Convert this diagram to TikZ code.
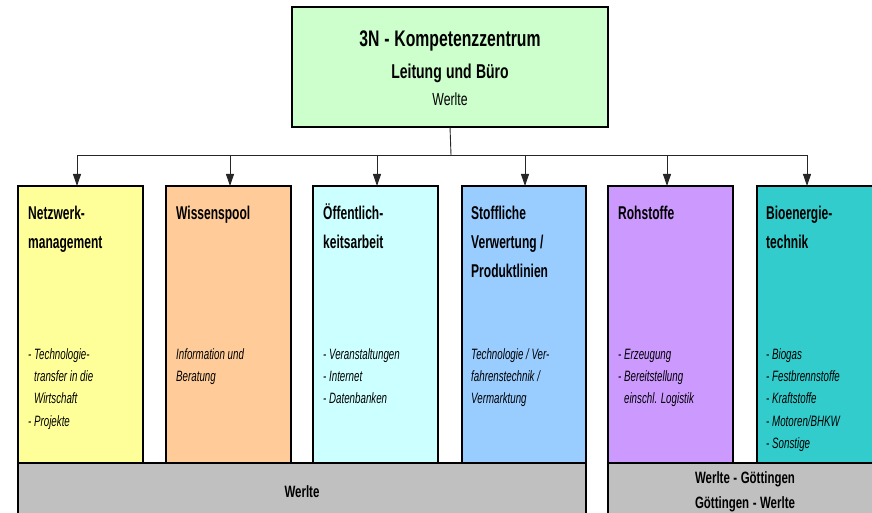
\documentclass[tikz,border=0pt]{standalone}
\usepackage{fontspec}
\setmainfont{Liberation Sans}[FakeStretch=0.65]
\newfontfamily\topfont{Liberation Sans}[FakeStretch=0.7,WordSpace=1.1]
\usetikzlibrary{arrows.meta}
\definecolor{cgreen}{HTML}{CCFFCC}
\definecolor{cyellow}{HTML}{FFFF99}
\definecolor{cpeach}{HTML}{FFCC99}
\definecolor{ccyan}{HTML}{CCFFFF}
\definecolor{cblue}{HTML}{99CCFF}
\definecolor{clav}{HTML}{CC99FF}
\definecolor{cteal}{HTML}{33CCCC}
\definecolor{cgray}{HTML}{C0C0C0}
\begin{document}
\begin{tikzpicture}[x=1pt,y=-1pt,
  box/.style={draw=black,line width=1.6pt,minimum width=125pt,minimum height=277pt,anchor=north west,inner sep=0pt,outer sep=0pt},
  bar/.style={draw=black,line width=1.6pt,fill=cgray,minimum height=70pt,anchor=north west,inner sep=0pt,outer sep=0pt},
  head/.style={anchor=base west,inner sep=0pt,text width=118pt,align=flush left,font=\bfseries\fontsize{18.5}{29}\selectfont},
  item/.style={anchor=base west,inner sep=0pt,text width=118pt,align=flush left,font=\itshape\fontsize{15}{22.4}\selectfont},
  bartext/.style={anchor=base,inner sep=0pt,font=\topfont\bfseries\fontsize{16.4}{25}\selectfont},
  arr/.style={draw=black!85,line width=0.9pt,-{Triangle[length=12pt,width=8pt]}}]
\useasboundingbox (0,0) rectangle (872,513);
\clip (0,0) rectangle (872,513);
% top box
\node[draw=black,line width=1.6pt,fill=cgreen,minimum width=316pt,minimum height=120pt,anchor=north west,inner sep=0pt,outer sep=0pt] (top) at (292,7) {};
\node[anchor=base,inner sep=0pt,font=\topfont\bfseries\fontsize{22.5}{26}\selectfont] (t1) at (450,47) {3N - Kompetenzzentrum};
\node[anchor=base,inner sep=0pt,font=\topfont\bfseries\fontsize{20}{24}\selectfont] (t2) at (450,79) {Leitung und Büro};
\node[anchor=base,inner sep=0pt,font=\topfont\fontsize{17.5}{21}\selectfont] (t3) at (450,106) {Werlte};
% bars
\node[bar,minimum width=568pt] (bar1) at (18,463) {};
\node[bar,minimum width=280pt] (bar2) at (608,463) {};
\node[bartext] (bt1) at (302,497) {Werlte};
\node[bartext] (bt2) at (745,483) {Werlte - Göttingen};
\node[bartext] (bt3) at (745,508) {Göttingen - Werlte};
% boxes
\node[box,fill=cyellow] (b1) at (18,186) {};
\node[box,fill=cpeach] (b2) at (166,186) {};
\node[box,fill=ccyan] (b3) at (313,186) {};
\node[box,fill=cblue,minimum width=124pt] (b4) at (462,186) {};
\node[box,fill=clav] (b5) at (608,186) {};
\node[box,fill=cteal] (b6) at (757,186) {};
% headings
\node[head] (h1) at (28,219) {Netzwerk-\\management};
\node[head] (h2) at (176,219) {Wissenspool};
\node[head] (h3) at (323,219) {Öffentlich-\\keitsarbeit};
\node[head] (h4) at (471,219) {Stoffliche\\Verwertung /\\Produktlinien};
\node[head] (h5) at (618,219) {Rohstoffe};
\node[head] (h6) at (766,219) {Bioenergie-\\technik};
% items
\node[item] (i1) at (28,359) {- Technologie-\\\phantom{- }transfer in die\\\phantom{- }Wirtschaft\\- Projekte};
\node[item] (i2) at (176,359) {Information und\\Beratung};
\node[item] (i3) at (323,359) {- Veranstaltungen\\- Internet\\- Datenbanken};
\node[item] (i4) at (471,359) {Technologie / Ver-\\fahrenstechnik /\\Vermarktung};
\node[item] (i5) at (618,359) {- Erzeugung\\- Bereitstellung\\\phantom{- }einschl. Logistik};
\node[item] (i6) at (766,359) {- Biogas\\- Festbrennstoffe\\- Kraftstoffe\\- Motoren/BHKW\\- Sonstige};
% connectors
\coordinate (j) at (451,155);
\draw[draw=black!85,line width=0.9pt] (top.south) -- (j);
\draw[arr] (j) -| ([xshift=-3.5pt]b1.north);
\draw[arr] (j) -| ([xshift=1.5pt]b2.north);
\draw[arr] (j) -| ([xshift=1.5pt]b3.north);
\draw[arr] (j) -| ([xshift=1pt]b4.north);
\draw[arr] (j) -| ([xshift=-3.5pt]b5.north);
\draw[arr] (j) -| ([xshift=-12.5pt]b6.north);
\end{tikzpicture}
\end{document}
